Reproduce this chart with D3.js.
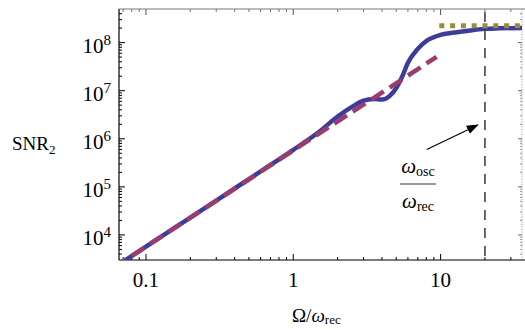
<!DOCTYPE html>
<html>
<head>
<meta charset="utf-8">
<script src="https://cdn.jsdelivr.net/npm/d3@7"></script>
<style>
  body { margin: 0; background: #fff; }
</style>
</head>
<body>
<script>
// ---- data ----
var omega    = [0.06, 0.07, 0.1, 0.2, 0.3, 0.5, 0.7, 1.0, 1.5, 2.0, 2.5, 3.0, 3.5, 4.0, 4.5, 5.0, 5.5, 6.0, 7.0, 8.0, 10, 12, 15, 20, 25, 36]
var snrFull  = [2.1e3, 2.8e3, 5.7e3, 2.3e4, 5.2e4, 1.45e5, 2.85e5, 5.9e5, 1.4e6, 2.9e6, 4.6e6, 6.2e6, 6.7e6, 6.55e6, 7.7e6, 1.14e7, 2.0e7, 3.8e7, 7.4e7, 1.08e8, 1.45e8, 1.6e8, 1.75e8, 1.93e8, 1.98e8, 2.02e8]
var omegaLow = [0.06, 9.4]
var snrLow   = [2.06e3, 5.06e7]
var omegaHigh = [9.8, 40]
var snrHigh   = [2.23e8, 2.23e8]
var omegaOsc  = 20

var xMajor = [0.1, 1, 10]
var xLabels = ["0.1", "1", "10"]
var yMajor = [4, 5, 6, 7, 8]   // exponents

// ---- layout ----
var W = 525, H = 329
var pL = 119, pR = 522, pT = 9, pB = 260
var serif = "'Liberation Serif', 'Times New Roman', Tinos, 'DejaVu Serif', serif"

var svg = d3.select("body").append("svg")
  .attr("width", W).attr("height", H)
  .attr("font-family", serif)

var x = d3.scaleLog().domain([0.0656, 35.7]).range([pL, pR])
var y = d3.scaleLog().domain([3013, 5.0e8]).range([pB, pT])

var xMinor = []
;[0.01, 0.1, 1, 10].forEach(function (d) {
  for (var k = 2; k <= 9; k++) {
    var v = d * k
    if (v > x.domain()[0] && v < x.domain()[1]) xMinor.push(v)
  }
})
var yMinor = []
for (var e = 3; e <= 8; e++) {
  for (var k = 2; k <= 9; k++) {
    var v = k * Math.pow(10, e)
    if (v > y.domain()[0] && v < y.domain()[1]) yMinor.push(v)
  }
}

var defs = svg.append("defs")
defs.append("clipPath").attr("id", "plot")
  .append("rect").attr("x", pL).attr("y", pT)
  .attr("width", pR - pL).attr("height", pB - pT)
defs.append("clipPath").attr("id", "wide")
  .append("rect").attr("x", pL).attr("y", pT)
  .attr("width", W - pL).attr("height", pB - pT)

// ---- frame: ticks ----
function ticks(g, vals, len, horiz, pos, dir, color) {
  g.selectAll(null).data(vals).enter().append("line")
    .attr("x1", function (d) { return horiz ? x(d) : pos })
    .attr("x2", function (d) { return horiz ? x(d) : pos + dir * len })
    .attr("y1", function (d) { return horiz ? pos : y(d) })
    .attr("y2", function (d) { return horiz ? pos + dir * len : y(d) })
    .attr("stroke", color).attr("stroke-width", 1)
}
var frame = svg.append("g")
var yMajorVals = yMajor.map(function (e) { return Math.pow(10, e) })

// bottom
ticks(frame, xMajor, 6, true, pB, -1, "#000")
ticks(frame, xMinor, 3, true, pB, -1, "#000")
// top
ticks(frame, xMajor, 6, true, pT, 1, "#555")
ticks(frame, xMinor, 3, true, pT, 1, "#777")
// left
ticks(frame, yMajorVals, 6, false, pL, 1, "#000")
ticks(frame, yMinor, 3, false, pL, 1, "#000")
// right
ticks(frame, yMajorVals, 4, false, pR, -1, "#666")
ticks(frame, yMinor, 2, false, pR, -1, "#999")

frame.append("line").attr("x1", pL).attr("x2", W).attr("y1", pT).attr("y2", pT)
  .attr("stroke", "#777").attr("stroke-width", 1.2)
frame.append("line").attr("x1", pR).attr("x2", pR).attr("y1", pT).attr("y2", pB)
  .attr("stroke", "#999").attr("stroke-width", 1).attr("stroke-dasharray", "1,1.5")
frame.append("line").attr("x1", pL).attr("x2", pL).attr("y1", pT).attr("y2", pB)
  .attr("stroke", "#000").attr("stroke-width", 1.2)
frame.append("line").attr("x1", pL).attr("x2", W).attr("y1", pB).attr("y2", pB)
  .attr("stroke", "#000").attr("stroke-width", 1.2)

// ---- curves ----
var line = d3.line()
  .x(function (d) { return x(d[0]) })
  .y(function (d) { return y(d[1]) })
  .curve(d3.curveMonotoneX)

var full = omega.map(function (d, i) { return [d, snrFull[i]] })
var low  = omegaLow.map(function (d, i) { return [d, snrLow[i]] })
var high = omegaHigh.map(function (d, i) { return [d, snrHigh[i]] })

svg.append("path").datum(full).attr("clip-path", "url(#plot)")
  .attr("d", line).attr("fill", "none")
  .attr("stroke", "#3d3d99").attr("stroke-width", 4.5)

svg.append("path").datum(low).attr("clip-path", "url(#plot)")
  .attr("d", line).attr("fill", "none")
  .attr("stroke", "#993d71").attr("stroke-width", 4.5)
  .attr("stroke-dasharray", "15,7")

svg.append("path").datum(high).attr("clip-path", "url(#wide)")
  .attr("d", line).attr("fill", "none")
  .attr("stroke", "#998b3d").attr("stroke-width", 5)
  .attr("stroke-dasharray", "5,5.8")

// vertical marker at omega_osc
svg.append("line")
  .attr("x1", x(omegaOsc)).attr("x2", x(omegaOsc))
  .attr("y1", pT + 3).attr("y2", pB)
  .attr("stroke", "#444").attr("stroke-width", 1.6)
  .attr("stroke-dasharray", "10,8")

// ---- arrow + fraction label ----
var arrowFrom = [8.05, 6.0e5], arrowTo = [17.9, 1.93e6]
defs.append("marker")
  .attr("id", "head").attr("markerUnits", "userSpaceOnUse")
  .attr("markerWidth", 12).attr("markerHeight", 10)
  .attr("refX", 11).attr("refY", 4.5).attr("orient", "auto")
  .append("path").attr("d", "M0,0 L12,4.5 L0,9 Z").attr("fill", "#000")
svg.append("line")
  .attr("x1", x(arrowFrom[0])).attr("y1", y(arrowFrom[1]))
  .attr("x2", x(arrowTo[0])).attr("y2", y(arrowTo[1]))
  .attr("stroke", "#000").attr("stroke-width", 1.2)
  .attr("marker-end", "url(#head)")

var fx = x(7.03)
var t1 = svg.append("text").attr("x", fx).attr("y", 173).attr("text-anchor", "middle")
t1.append("tspan").attr("font-size", 21).attr("font-style", "italic").text("ω")
t1.append("tspan").attr("font-size", 14).attr("dy", 3).text("osc")
svg.append("line").attr("x1", fx - 18).attr("x2", fx + 18).attr("y1", 184).attr("y2", 184)
  .attr("stroke", "#333").attr("stroke-width", 1)
var t2 = svg.append("text").attr("x", fx).attr("y", 208).attr("text-anchor", "middle")
t2.append("tspan").attr("font-size", 21).attr("font-style", "italic").text("ω")
t2.append("tspan").attr("font-size", 14).attr("dy", 3).text("rec")

// ---- tick labels ----
svg.selectAll(null).data(xMajor).enter().append("text")
  .attr("x", function (d) { return x(d) }).attr("y", 287)
  .attr("text-anchor", "middle").attr("font-size", 21)
  .text(function (d, i) { return xLabels[i] })

var yl = svg.selectAll(null).data(yMajor).enter().append("text")
  .attr("x", 111).attr("y", function (d) { return y(Math.pow(10, d)) + 10.5 })
  .attr("text-anchor", "end")
yl.append("tspan").attr("font-size", 21).text("10")
yl.append("tspan").attr("font-size", 15).attr("dy", -8).text(function (d) { return d })

// ---- axis titles ----
var yt = svg.append("text").attr("x", 12).attr("y", 150)
yt.append("tspan").attr("font-size", 19).text("SNR")
yt.append("tspan").attr("font-size", 13).attr("dy", 4).text("2")

var xt = svg.append("text").attr("x", 292).attr("y", 322)
xt.append("tspan").attr("font-size", 19).text("Ω/")
xt.append("tspan").attr("font-size", 19).attr("font-style", "italic").text("ω")
xt.append("tspan").attr("font-size", 13).attr("dy", 2).text("rec")
</script>
</body>
</html>
